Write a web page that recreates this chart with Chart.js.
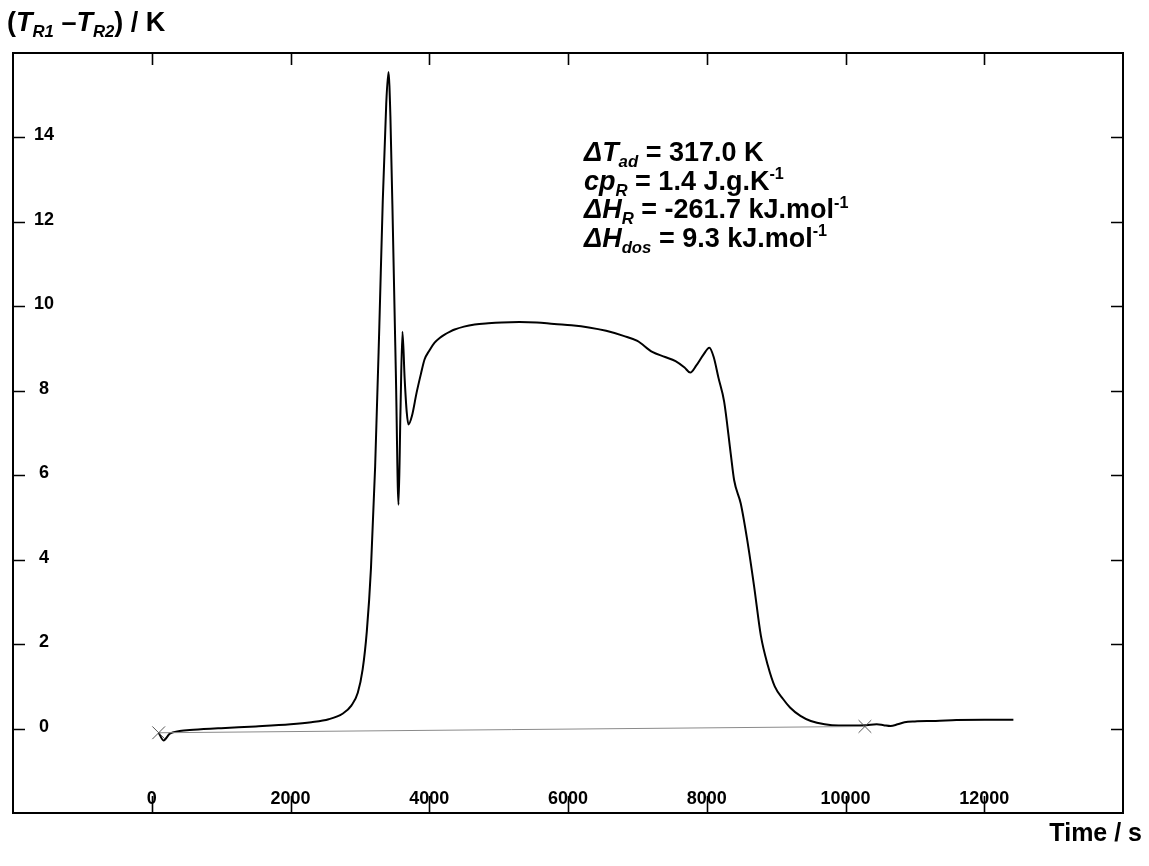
<!DOCTYPE html>
<html>
<head>
<meta charset="utf-8">
<script src="https://cdn.jsdelivr.net/npm/chart.js@4.4.0/dist/chart.umd.min.js"></script>
<style>
  html, body { margin: 0; padding: 0; background: #fff; }
  #wrap { width: 1149px; height: 866px; }
</style>
</head>
<body>
<div id="wrap"><canvas id="tempChart"></canvas></div>
<script>
// reading of the trace (time in s, temperature difference in K)
var timeValues = [100, 170, 260, 400, 600, 1000, 1500, 2000, 2300, 2550, 2750, 2880, 2970, 3040, 3100, 3160, 3220, 3280, 3330, 3380,
    3412, 3440, 3480, 3520, 3557, 3585, 3614, 3645, 3675, 3701, 3750, 3817, 3880, 3932, 4000, 4077, 4150, 4221, 4300, 4366,
    4500, 4655, 4850, 5046, 5300, 5550, 5800, 6050, 6300, 6550, 6800, 7000, 7214, 7400, 7550, 7680, 7763, 7850, 7950, 8038,
    8100, 8170, 8250, 8345, 8395, 8490, 8585, 8685, 8780, 8880, 8980, 9100, 9200, 9350, 9500, 9700, 9900, 10100, 10300, 10450,
    10550, 10650, 10750, 10850, 11000, 11300, 11600, 12000, 12420];
var deltaT = [-0.1, -0.28, -0.12, -0.06, -0.03, 0.01, 0.05, 0.1, 0.15, 0.22, 0.35, 0.55, 0.85, 1.4, 2.3, 3.8, 6.2, 9.5, 12.5, 14.8,
    15.55, 14.5, 11.5, 8.3, 5.3, 7.5, 9.4, 8.3, 7.5, 7.2, 7.4, 7.95, 8.4, 8.74, 8.95, 9.14, 9.25, 9.33, 9.4, 9.45,
    9.52, 9.57, 9.6, 9.62, 9.63, 9.62, 9.58, 9.55, 9.5, 9.42, 9.3, 9.18, 8.92, 8.8, 8.7, 8.55, 8.43, 8.6, 8.85, 9.02,
    8.8, 8.3, 7.75, 6.52, 5.88, 5.33, 4.45, 3.34, 2.2, 1.5, 1.0, 0.7, 0.5, 0.3, 0.18, 0.1, 0.07, 0.07, 0.08, 0.1,
    0.08, 0.06, 0.1, 0.15, 0.17, 0.18, 0.2, 0.21, 0.21];

// integration baseline between the two marked points
var baseTime = [100, 10280];
var baseValue = [-0.1, 0.05];

var xTicks = [0, 2000, 4000, 6000, 8000, 10000, 12000];
var yTicks = [0, 2, 4, 6, 8, 10, 12, 14];

var FONT = '"Liberation Sans", Arial, Helvetica, sans-serif';

function pairs(xs, ys) {
    return xs.map(function (x, i) { return { x: x, y: ys[i] }; });
}

// draws a line of text made of runs: n = normal, i = italic, sub / sup = small italic / small
function richText(ctx, x, y, runs, size) {
    runs.forEach(function (r) {
        var s = size, dy = 0, style = 'bold ';
        if (r.s === 'i') style = 'italic bold ';
        if (r.s === 'sub') { s = size * 0.62; dy = size * 0.22; style = 'italic bold '; }
        if (r.s === 'sup') { s = size * 0.6; dy = -size * 0.4; }
        ctx.font = style + s + 'px ' + FONT;
        ctx.fillText(r.t, x, y + dy);
        x += ctx.measureText(r.t).width;
    });
}

var framePlugin = {
    id: 'frame',
    afterDraw: function (chart) {
        var ctx = chart.ctx, a = chart.chartArea;
        var xs = chart.scales.x, ys = chart.scales.y;
        ctx.save();
        ctx.strokeStyle = '#000';
        ctx.lineWidth = 2;
        ctx.strokeRect(a.left, a.top, a.right - a.left, a.bottom - a.top);

        ctx.lineWidth = 1.6;
        ctx.beginPath();
        xTicks.forEach(function (v) {
            var px = Math.round(xs.getPixelForValue(v)) + 0.5;
            ctx.moveTo(px, a.bottom); ctx.lineTo(px, a.bottom - 17);
            ctx.moveTo(px, a.top); ctx.lineTo(px, a.top + 12);
        });
        yTicks.forEach(function (v) {
            var py = Math.round(ys.getPixelForValue(v)) + 0.5;
            ctx.moveTo(a.left, py); ctx.lineTo(a.left + 12, py);
            ctx.moveTo(a.right, py); ctx.lineTo(a.right - 12, py);
        });
        ctx.stroke();

        ctx.fillStyle = '#000';
        ctx.font = 'bold 18px ' + FONT;
        ctx.textAlign = 'center';
        ctx.textBaseline = 'alphabetic';
        xTicks.forEach(function (v) {
            ctx.fillText(String(v), xs.getPixelForValue(v), a.bottom - 9);
        });
        ctx.textBaseline = 'middle';
        yTicks.forEach(function (v) {
            ctx.fillText(String(v), a.left + 31, ys.getPixelForValue(v) - 2);
        });

        ctx.textAlign = 'left';
        ctx.textBaseline = 'alphabetic';
        richText(ctx, 7, 31, [
            { t: '(', s: 'n' }, { t: 'T', s: 'i' }, { t: 'R1', s: 'sub' },
            { t: ' \u2013', s: 'n' }, { t: 'T', s: 'i' }, { t: 'R2', s: 'sub' }, { t: ') / K', s: 'n' }
        ], 27);

        ctx.textAlign = 'right';
        ctx.font = 'bold 25px ' + FONT;
        ctx.fillText('Time / s', 1142, 841);

        ctx.textAlign = 'left';
        var lx = 584, ly = 161, lh = 28.7;
        richText(ctx, lx, ly, [{ t: '\u0394T', s: 'i' }, { t: 'ad', s: 'sub' }, { t: ' = 317.0 K', s: 'n' }], 27);
        richText(ctx, lx, ly + lh, [{ t: 'cp', s: 'i' }, { t: 'R', s: 'sub' }, { t: ' = 1.4 J.g.K', s: 'n' }, { t: '-1', s: 'sup' }], 27);
        richText(ctx, lx, ly + 2 * lh, [{ t: '\u0394H', s: 'i' }, { t: 'R', s: 'sub' }, { t: ' = -261.7 kJ.mol', s: 'n' }, { t: '-1', s: 'sup' }], 27);
        richText(ctx, lx, ly + 3 * lh, [{ t: '\u0394H', s: 'i' }, { t: 'dos', s: 'sub' }, { t: ' = 9.3 kJ.mol', s: 'n' }, { t: '-1', s: 'sup' }], 27);
        ctx.restore();
    }
};

new Chart(document.getElementById('tempChart'), {
    type: 'scatter',
    data: {
        datasets: [{
            label: 'baseline',
            data: pairs(baseTime, baseValue),
            showLine: true,
            borderColor: '#8a8a8a',
            borderWidth: 1,
            pointStyle: 'crossRot',
            pointRadius: 9,
            pointBorderColor: '#555',
            pointBorderWidth: 1
        }, {
            label: 'TR1 - TR2',
            data: pairs(timeValues, deltaT),
            showLine: true,
            borderColor: '#000',
            borderWidth: 2,
            pointRadius: 0,
            cubicInterpolationMode: 'monotone'
        }]
    },
    options: {
        responsive: true,
        maintainAspectRatio: false,
        animation: false,
        layout: { padding: { left: 13, right: 26, top: 53, bottom: 53 } },
        plugins: { legend: { display: false }, tooltip: { enabled: false } },
        scales: {
            x: { type: 'linear', min: -2000, max: 14000, display: false },
            y: { type: 'linear', min: -2, max: 16, display: false }
        }
    },
    plugins: [framePlugin]
});
</script>
</body>
</html>
